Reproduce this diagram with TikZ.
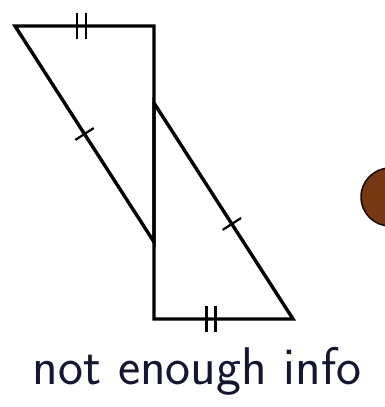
\documentclass[tikz,border=0pt]{standalone}
\usetikzlibrary{calc}
\definecolor{dotbrown}{RGB}{118,56,18}
\definecolor{inkblue}{RGB}{20,22,50}
\tikzset{
  side/.style={line width=3.4pt, line join=miter},
  tick/.style={line width=2.2pt},
  dot/.style={circle, draw=black!85!dotbrown, line width=1.5pt,
              fill=dotbrown, minimum size=58pt, inner sep=0pt},
  note/.style={font=\sffamily\fontsize{53}{60}\selectfont, text=inkblue,
               anchor=base},
}
\begin{document}
\begin{tikzpicture}[x=1pt, y=-1pt]
  \useasboundingbox (0,0) rectangle (384,407);
  % upper triangle
  \coordinate (A) at (15,26);
  \coordinate (B) at (154,26);
  \coordinate (C) at (154,242);
  % lower triangle
  \coordinate (D) at (154,103);
  \coordinate (E) at (154,319);
  \coordinate (F) at (293,319);
  \draw[side] (A) -- (B) -- (C) -- cycle;
  \draw[side] (D) -- (E) -- (F) -- cycle;
  % congruence marks
  \foreach \p/\q/\t in {A/B/0.48, E/F/0.41}{
    \foreach \s in {-4.5,4.5}{
      \coordinate (m) at ($(\p)!\t!(\q)+(\s,0)$);
      \draw[tick] ($(m)+(0,-13)$) -- ($(m)+(0,13)$);
    }
  }
  \foreach \p/\q/\t in {A/C/0.5, D/F/0.56}{
    \coordinate (m) at ($(\p)!\t!(\q)$);
    \draw[tick] ($(m)!11pt!90:(\q)$) -- ($(m)!11pt!-90:(\q)$);
  }
  \node[dot] (spot) at (390,197) {};
  \node[note] (answer) at (197,384) {not enough info};
\end{tikzpicture}
\end{document}
